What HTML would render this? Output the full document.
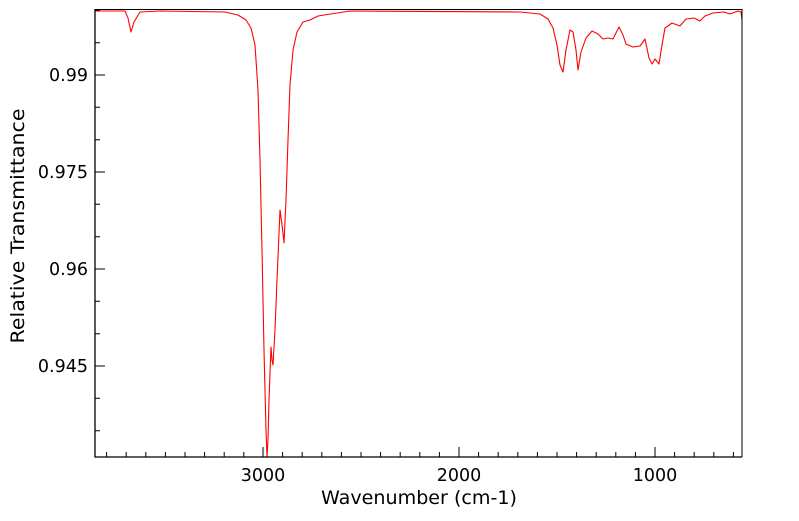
<!DOCTYPE html>
<html><head><style>body{margin:0;background:#fff}</style></head><body>
<svg width="799" height="516" xmlns="http://www.w3.org/2000/svg" font-family="DejaVu Sans, Liberation Sans, sans-serif">
<rect width="799" height="516" fill="#fff"/>
<polyline fill="none" stroke="#ff0000" stroke-width="1.1" stroke-linejoin="round" points="95,11 125,11 128,18 131,32 134,22 140,12 160,11 225,12 238,15 246,20 251,28 255,45 258,90 260,160 262,250 264,350 266,430 267,457 268,440 269,400 271,347 272,360 273,365 275,330 277,280 280,210 282,225 284,243 286,200 288,140 290,85 293,50 297,32 303,22 310,20 318,16 350,11 520,12 540,14 548,19 553,28 557,45 560,65 563,72 566,50 570,30 573,32 576,50 578,70 581,52 586,38 592,31 598,34 603,39 608,38 613,39 619,27 623,35 626,44 633,47 640,46 645,39 649,58 652,64 655,59 659,64 662,45 665,28 672,23 680,26 686,19 694,18 700,21 705,16 713,13 724,12 730,14 738,11 741,12 742,20"/>
<path d="M95,9.5H742V457" fill="none" stroke="#000" stroke-width="1"/>
<path d="M95,9V457H742" fill="none" stroke="#000" stroke-width="1.3"/>
<g stroke="#000" stroke-width="1">
<path d="M263,457v-10M459,457v-10M655,457v-10"/>
<path d="M106.6,457v-5M126.2,457v-5M145.8,457v-5M165.4,457v-5M185,457v-5M204.6,457v-5M224.2,457v-5M243.8,457v-5M282.6,457v-5M302.2,457v-5M321.8,457v-5M341.4,457v-5M361,457v-5M380.6,457v-5M400.2,457v-5M419.8,457v-5M439.4,457v-5M478.6,457v-5M498.2,457v-5M517.8,457v-5M537.4,457v-5M557,457v-5M576.6,457v-5M596.2,457v-5M615.8,457v-5M635.4,457v-5M674.6,457v-5M694.2,457v-5M713.8,457v-5M733.4,457v-5"/>
<path d="M95,75h10M95,172h10M95,269h10M95,366h10"/>
<path d="M95,42.7h5M95,107.3h5M95,139.7h5M95,204.3h5M95,236.7h5M95,301.3h5M95,333.7h5M95,398.3h5M95,430.7h5M95,10.3h5"/>
</g>
<g font-size="17.5" fill="#000">
<text x="263" y="481" text-anchor="middle">3000</text>
<text x="459" y="481" text-anchor="middle">2000</text>
<text x="655" y="481" text-anchor="middle">1000</text>
<text x="88" y="81" text-anchor="end">0.99</text>
<text x="88" y="178" text-anchor="end">0.975</text>
<text x="88" y="275" text-anchor="end">0.96</text>
<text x="88" y="372" text-anchor="end">0.945</text>
</g>
<g font-size="19" fill="#000">
<text x="419" y="504" text-anchor="middle" textLength="196" lengthAdjust="spacingAndGlyphs">Wavenumber (cm-1)</text>
<text transform="translate(24,226) rotate(-90)" text-anchor="middle" textLength="235" lengthAdjust="spacingAndGlyphs">Relative Transmittance</text>
</g>
</svg>
</body></html>
